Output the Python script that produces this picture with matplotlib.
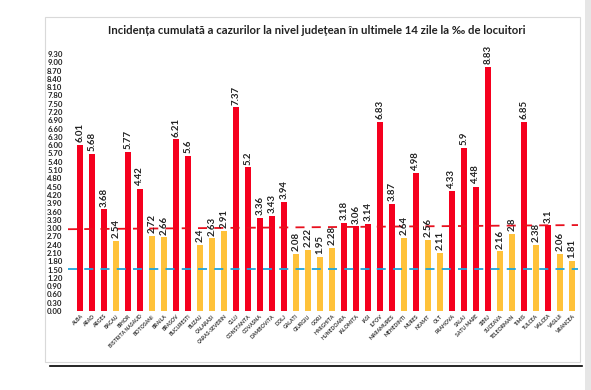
import matplotlib
matplotlib.use("Agg")
import matplotlib.pyplot as plt
from matplotlib.patches import Rectangle
from matplotlib.lines import Line2D

counties = ["ALBA", "ARAD", "ARGES", "BACAU", "BIHOR", "BISTRITA NASAUD", "BOTOSANI",
            "BRAILA", "BRASOV", "BUCURESTI", "BUZAU", "CALARASI", "CARAS-SEVERIN", "CLUJ",
            "CONSTANTA", "COVASNA", "DAMBOVITA", "DOLJ", "GALATI", "GIURGIU", "GORJ",
            "HARGHITA", "HUNEDOARA", "IALOMITA", "IASI", "ILFOV", "MARAMURES", "MEHEDINTI",
            "MURES", "NEAMT", "OLT", "PRAHOVA", "SALAJ", "SATU MARE", "SIBIU", "SUCEAVA",
            "TELEORMAN", "TIMIS", "TULCEA", "VALCEA", "VASLUI", "VRANCEA"]
values = [6.01, 5.68, 3.68, 2.54, 5.77, 4.42, 2.72, 2.66, 6.21, 5.6, 2.4, 2.63, 2.91, 7.37,
          5.2, 3.36, 3.43, 3.94, 2.08, 2.22, 1.95, 2.28, 3.18, 3.06, 3.14, 6.83, 3.87, 2.64,
          4.98, 2.56, 2.11, 4.33, 5.9, 4.48, 8.83, 2.16, 2.8, 6.85, 2.38, 3.1, 2.06, 1.81]
value_labels = ["6.01", "5.68", "3.68", "2.54", "5.77", "4.42", "2.72", "2.66", "6.21", "5.6",
                "2.4", "2.63", "2.91", "7.37", "5.2", "3.36", "3.43", "3.94", "2.08", "2.22",
                "1.95", "2.28", "3.18", "3.06", "3.14", "6.83", "3.87", "2.64", "4.98", "2.56",
                "2.11", "4.33", "5.9", "4.48", "8.83", "2.16", "2.8", "6.85", "2.38", "3.1",
                "2.06", "1.81"]
red_threshold = [2.96, 3.11]   # dashed red line, left end / right end
blue_threshold = [1.52, 1.52]  # dashed blue line
yticks = [round(0.3 * i, 2) for i in range(32)]

RED = "#F5001E"
YELLOW = "#FFC23A"
BLUE = "#1FA5DC"

plt.rcParams['font.family'] = ['Lato', 'DejaVu Sans']

fig = plt.figure(figsize=(5.91, 3.90), dpi=100)
W, H = 591, 390

# outer chart frame
fig.patches.append(Rectangle((45 / W, 1 - 362 / H), (580 - 45) / W, (362 - 17) / H,
                             transform=fig.transFigure, fill=False, edgecolor="#d9d9d9", lw=0.8))
fig.lines.append(Line2D([50 / W, 582 / W], [1 - 366 / H, 1 - 366 / H],
                        transform=fig.transFigure, color="black", lw=1.2))
fig.patches.append(Rectangle((585 / W, 0), 6 / W, 1, transform=fig.transFigure,
                             facecolor="#e6e6e6", edgecolor="none"))

ax = fig.add_axes([68 / W, 1 - 311 / H, (578 - 68) / W, (311 - 54) / H])
x = list(range(len(counties)))
colors = [RED if v > 3 else YELLOW for v in values]
ax.bar(x, values, width=0.48, color=colors, zorder=2)

for xi, v, lab in zip(x, values, value_labels):
    ax.text(xi, v + 0.1, lab, rotation=90, ha="center", va="bottom", fontsize=6.9,
            fontweight="bold", color="#222222", clip_on=False, zorder=4)

ax.plot([-1, 41.5], red_threshold, color="#E8101E", lw=1.3, ls=(0, (5, 4)), zorder=3)
ax.plot([-1, 41.5], blue_threshold, color=BLUE, lw=1.3, ls=(0, (5, 4)), zorder=3)

ax.set_xlim(-1, 41.5)
ax.set_ylim(0, 9.3)
ax.set_yticks(yticks)
ax.set_yticklabels([f"{t:.2f}" for t in yticks], fontsize=5.6, fontweight="bold", color="#222222")
ax.set_xticks(x)
ax.set_xticklabels(counties, rotation=45, ha="right", rotation_mode="anchor",
                   fontsize=3.7, fontweight="bold", color="#333333")
ax.tick_params(axis="both", length=0, pad=2)
ax.tick_params(axis="y", pad=15)
for lbl in ax.get_yticklabels():
    lbl.set_horizontalalignment("left")
for s in ax.spines.values():
    s.set_visible(False)

fig.text(317 / W, 1 - 30 / H,
         "Incidența cumulată a cazurilor la nivel județean în ultimele 14 zile la ‰ de locuitori",
         ha="center", va="center", fontsize=8.2, fontweight="bold", color="#222222")

fig.savefig("out.png", dpi=100, facecolor="white")
